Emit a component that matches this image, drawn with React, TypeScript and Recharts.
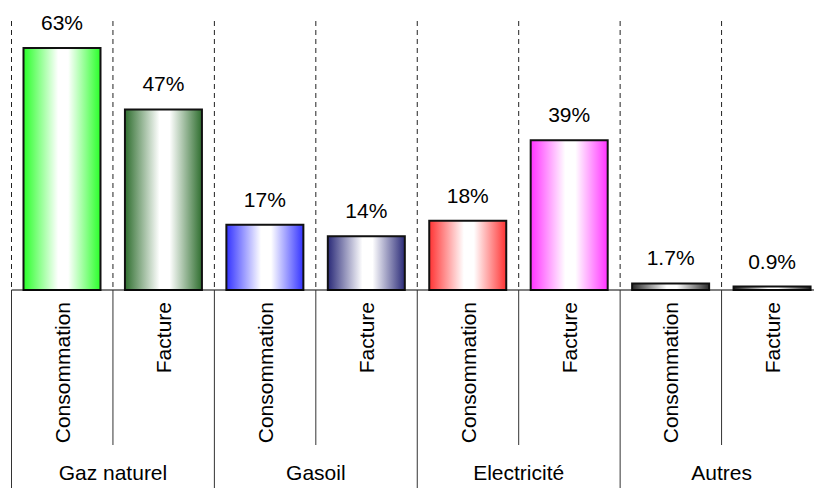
import React from "react";
import { BarChart, Bar, XAxis, YAxis, Cell, LabelList } from "recharts";

const groups = ["Gaz naturel", "Gasoil", "Electricité", "Autres"];
const items = ["Consommation", "Facture", "Consommation", "Facture", "Consommation", "Facture", "Consommation", "Facture"];
const groupIndex = [0, 0, 1, 1, 2, 2, 3, 3];
const values = [63, 47, 17, 14, 18, 39, 1.7, 0.9];
const colors = ["#2aff2a", "#2f6e2f", "#3333ff", "#2a2a78", "#ff3333", "#ff33ff", "#2a2a2a", "#1a1a1a"];

const data = values.map((v, i) => ({ key: String(i), item: items[i], group: groups[groupIndex[i]], value: v }));

const W = 834;
const H = 488;
const M_LEFT = 11.5;
const M_RIGHT = 11;
const TOP = 21;
const AXIS_H = 198;
const AXIS_Y = H - AXIS_H;
const BAND = (W - M_LEFT - M_RIGHT) / data.length;
const FONT = 21;

function Tick(props: any) {
  const { x, index } = props;
  const x0 = x - BAND / 2;
  const first = index % 2 === 0;
  return (
    <g>
      <line x1={x0} x2={x0} y1={TOP} y2={AXIS_Y} stroke="#222" strokeWidth={1} strokeDasharray="5 4" />
      <line x1={x0} x2={x0} y1={AXIS_Y} y2={first ? H : 445} stroke="#333" strokeWidth={1} />
      <text
        transform={`translate(${x},302) rotate(-90)`}
        textAnchor="end"
        dy="0.36em"
        fontSize={FONT}
        fill="#000"
      >
        {items[index]}
      </text>
      {!first && (
        <text x={x0} y={480} textAnchor="middle" fontSize={FONT} fill="#000">
          {groups[groupIndex[index]]}
        </text>
      )}
    </g>
  );
}

export default function App() {
  return (
    <div
      style={{
        position: "fixed",
        left: 0,
        top: 0,
        width: 814,
        height: 488,
        overflow: "hidden",
        background: "#fff",
        fontFamily: "'Liberation Sans', Arial, sans-serif",
      }}
    >
      <BarChart
        width={W}
        height={H}
        data={data}
        margin={{ top: TOP, right: M_RIGHT, left: M_LEFT, bottom: 0 }}
      >
        <defs>
          {colors.map((c, i) => (
            <linearGradient key={i} id={`g${i}`} x1="0" y1="0" x2="1" y2="0">
              <stop offset="0%" stopColor={c} />
              <stop offset="45%" stopColor="#ffffff" />
              <stop offset="58%" stopColor="#ffffff" />
              <stop offset="100%" stopColor={c} />
            </linearGradient>
          ))}
        </defs>
        <YAxis hide domain={[0, 70]} type="number" />
        <XAxis
          dataKey="key"
          height={AXIS_H}
          interval={0}
          tickLine={false}
          tickSize={0}
          axisLine={{ stroke: "#000", strokeWidth: 1 }}
          tick={<Tick />}
        />
        <Bar dataKey="value" barSize={77} stroke="#111" strokeWidth={2} isAnimationActive={false}>
          {data.map((d, i) => (
            <Cell key={d.key} fill={`url(#g${i})`} />
          ))}
          <LabelList
            dataKey="value"
            position="top"
            offset={18}
            formatter={(v: any) => `${v}%`}
            fill="#000"
            fontSize={FONT}
          />
        </Bar>
      </BarChart>
    </div>
  );
}
